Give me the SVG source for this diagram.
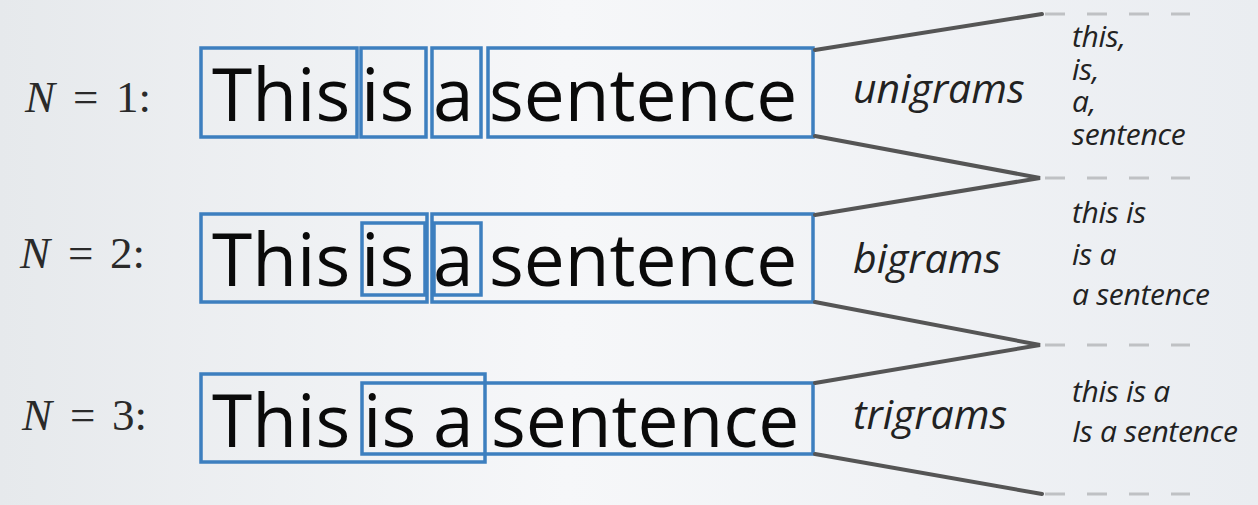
<svg xmlns="http://www.w3.org/2000/svg" width="1258" height="505" viewBox="0 0 1258 505">
<defs>
<linearGradient id="bg" x1="0" y1="0" x2="1" y2="0">
<stop offset="0" stop-color="#e6e9ec"/>
<stop offset="0.45" stop-color="#f6f7f9"/>
<stop offset="1" stop-color="#eaedf1"/>
</linearGradient>
<style>
.box{fill:none;stroke:#3d7fbf;stroke-width:3.5}
.word{font-family:"Open Sans",sans-serif;font-size:73px;font-weight:500;fill:#0a0a0a}
.lab{font-family:"Liberation Serif",serif;font-size:45px;fill:#2a2a2a}
.lab .it{font-style:italic}
.kind{font-family:"Open Sans",sans-serif;font-style:italic;font-size:41px;fill:#222}
.gram{font-family:"Open Sans",sans-serif;font-style:italic;font-size:30px;fill:#222;letter-spacing:-0.3px}
.conn{stroke:#555;stroke-width:4;fill:none;stroke-linecap:round}
.dash{stroke:#bfc1c4;stroke-width:3;stroke-dasharray:20 22;fill:none}
</style>
</defs>
<rect width="1258" height="505" fill="url(#bg)"/>

<g id="row1">
<text class="lab" y="112"><tspan class="it" x="25">N</tspan><tspan x="73">=</tspan><tspan x="116">1:</tspan></text>
<rect class="box" x="201" y="48" width="156" height="89"/>
<rect class="box" x="361" y="48" width="65" height="89"/>
<rect class="box" x="432" y="48" width="49" height="89"/>
<rect class="box" x="488" y="48" width="325" height="89"/>
<text class="word" y="121"><tspan x="212">This</tspan><tspan x="361">is</tspan><tspan x="433">a</tspan><tspan x="489">sentence</tspan></text>
<text class="kind" x="853" y="103">unigrams</text>
<text class="gram"><tspan x="1072" y="47">this,</tspan><tspan x="1072" y="80">is,</tspan><tspan x="1072" y="112">a,</tspan><tspan x="1072" y="145">sentence</tspan></text>
</g>

<g id="row2">
<text class="lab" y="268"><tspan class="it" x="20">N</tspan><tspan x="68">=</tspan><tspan x="110">2:</tspan></text>
<rect class="box" x="201" y="214" width="226" height="88"/>
<rect class="box" x="432" y="214" width="381" height="88"/>
<rect class="box" x="362" y="223" width="63" height="72"/>
<rect class="box" x="434" y="223" width="47" height="72"/>
<text class="word" y="286"><tspan x="212">This</tspan><tspan x="361">is</tspan><tspan x="433">a</tspan><tspan x="489">sentence</tspan></text>
<text class="kind" x="853" y="273">bigrams</text>
<text class="gram"><tspan x="1072" y="223">this is</tspan><tspan x="1072" y="265">is a</tspan><tspan x="1072" y="305">a sentence</tspan></text>
</g>

<g id="row3">
<text class="lab" y="430"><tspan class="it" x="22">N</tspan><tspan x="70">=</tspan><tspan x="112">3:</tspan></text>
<rect class="box" x="201" y="374" width="284" height="88"/>
<rect class="box" x="362" y="383" width="451" height="71"/>
<text class="word" y="447"><tspan x="212">This</tspan><tspan x="363">is</tspan><tspan x="433">a</tspan><tspan x="491">sentence</tspan></text>
<text class="kind" x="853" y="429">trigrams</text>
<text class="gram"><tspan x="1072" y="402">this is a</tspan><tspan x="1072" y="442">Is a sentence</tspan></text>
</g>

<g id="connectors">
<path class="conn" d="M815 50 L1042 14"/>
<path class="conn" d="M815 136 L1040 178 L815 215"/>
<path class="conn" d="M815 302 L1040 345 L815 383"/>
<path class="conn" d="M815 454 L1042 494"/>
<path class="dash" d="M1045 14 H1190 M1045 178 H1190 M1045 345 H1190 M1045 494 H1190"/>
</g>
</svg>
